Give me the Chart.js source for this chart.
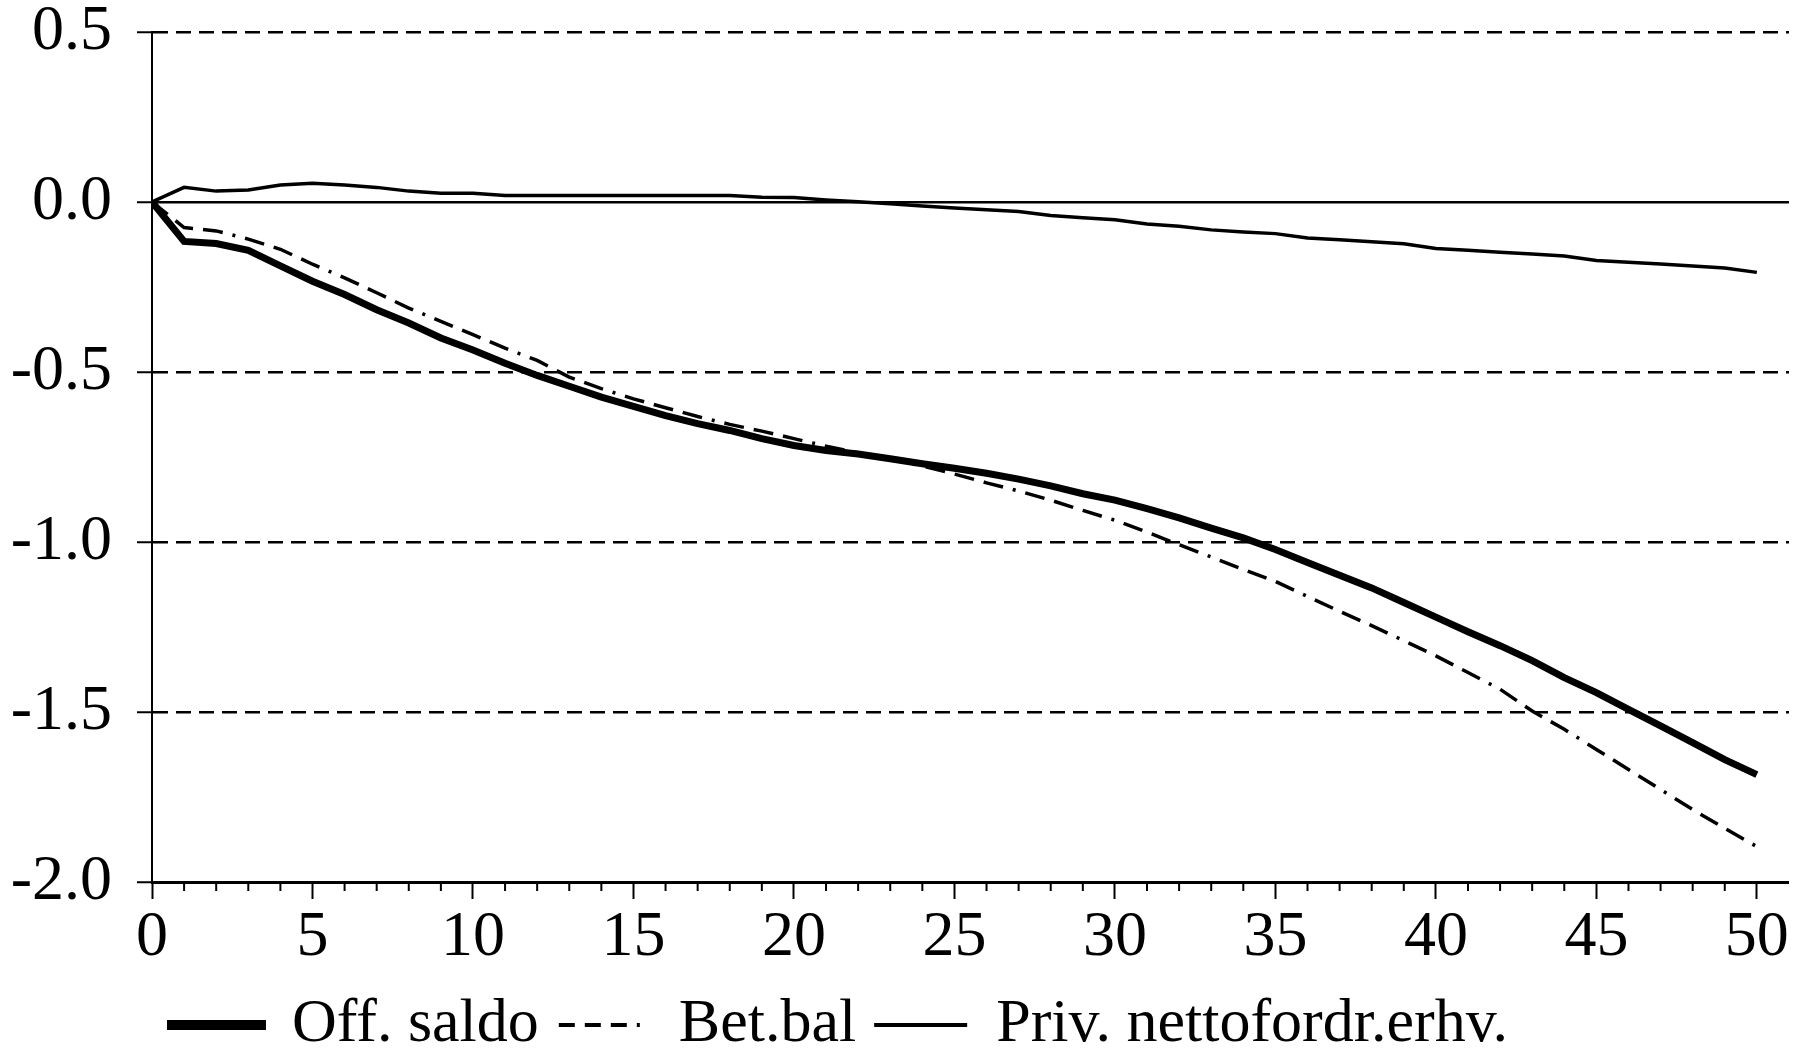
<!DOCTYPE html>
<html>
<head>
<meta charset="utf-8">
<script src="https://cdn.jsdelivr.net/npm/chart.js@4.4.1/dist/chart.umd.min.js"></script>
<style>
  html, body { margin: 0; padding: 0; background: #fff; }
  #wrap { width: 1796px; height: 1053px; }
</style>
</head>
<body>
<div id="wrap"><canvas id="grafico"></canvas></div>
<script>
const perioder = [0, 1, 2, 3, 4, 5, 6, 7, 8, 9, 10, 11, 12, 13, 14, 15, 16, 17, 18, 19, 20,
  21, 22, 23, 24, 25, 26, 27, 28, 29, 30, 31, 32, 33, 34, 35, 36, 37, 38, 39, 40,
  41, 42, 43, 44, 45, 46, 47, 48, 49, 50];

const offSaldo = [0, -0.116, -0.122, -0.142, -0.188, -0.233, -0.272, -0.317, -0.356, -0.400, -0.435,
  -0.474, -0.510, -0.542, -0.574, -0.601, -0.628, -0.652, -0.672, -0.696, -0.716,
  -0.731, -0.741, -0.755, -0.770, -0.783, -0.798, -0.815, -0.835, -0.858, -0.877,
  -0.902, -0.929, -0.959, -0.988, -1.022, -1.060, -1.098, -1.135, -1.178, -1.221,
  -1.264, -1.305, -1.349, -1.399, -1.443, -1.492, -1.541, -1.590, -1.640, -1.684];

const betBal = [0, -0.075, -0.085, -0.109, -0.139, -0.183, -0.223, -0.267, -0.312, -0.351, -0.390,
  -0.430, -0.466, -0.515, -0.549, -0.579, -0.605, -0.631, -0.654, -0.674, -0.696,
  -0.718, -0.738, -0.757, -0.776, -0.800, -0.826, -0.850, -0.877, -0.907, -0.936,
  -0.971, -1.008, -1.044, -1.081, -1.116, -1.160, -1.204, -1.246, -1.290, -1.335,
  -1.384, -1.433, -1.497, -1.551, -1.610, -1.669, -1.728, -1.787, -1.842, -1.896];

const privNetto = [0, 0.043, 0.032, 0.035, 0.050, 0.055, 0.050, 0.043, 0.032, 0.026, 0.026,
  0.019, 0.019, 0.019, 0.019, 0.019, 0.019, 0.019, 0.019, 0.014, 0.013,
  0.006, 0.001, -0.005, -0.012, -0.018, -0.023, -0.028, -0.040, -0.046, -0.052,
  -0.065, -0.071, -0.082, -0.088, -0.093, -0.106, -0.111, -0.117, -0.123, -0.137,
  -0.142, -0.148, -0.153, -0.159, -0.172, -0.177, -0.182, -0.188, -0.194, -0.207];

const serier = ["Off. saldo", "Bet.bal", "Priv. nettofordr.erhv."];
const xTicks = [0, 5, 10, 15, 20, 25, 30, 35, 40, 45, 50];
const yTicks = [0.5, 0.0, -0.5, -1.0, -1.5, -2.0];

const serif = "'Liberation Serif', 'Times New Roman', serif";
Chart.defaults.color = "#000";

const punkter = (vals) => perioder.map((p, i) => ({ x: p, y: vals[i] }));

// legendens streger: tykkelse og stiplet mønster pr. serie
const legendStreg = [
  { width: 10, dash: [], cap: "square" },
  { width: 4, dash: [16, 10, 16, 10, 16, 10, 3, 20], cap: "butt" },
  { width: 4, dash: [], cap: "square" }
];

// små streger ved hver periode på x-aksen
const smaaStreger = {
  id: "smaaStreger",
  afterDraw(chart) {
    const xs = chart.scales.x;
    const ctx = chart.ctx;
    ctx.save();
    ctx.strokeStyle = "#000";
    ctx.lineWidth = 2;
    ctx.beginPath();
    perioder.forEach(p => {
      if (p % 5 === 0) return;
      const px = xs.getPixelForValue(p);
      ctx.moveTo(px, xs.top);
      ctx.lineTo(px, xs.top + 9);
    });
    ctx.stroke();
    ctx.restore();
  }
};

new Chart(document.getElementById("grafico"), {
  type: "line",
  data: {
    datasets: [
      {
        label: serier[0],
        data: punkter(offSaldo),
        borderColor: "#000",
        backgroundColor: "#000",
        borderWidth: 7,
        pointRadius: 0,
        tension: 0
      },
      {
        label: serier[1],
        data: punkter(betBal),
        borderColor: "#000",
        backgroundColor: "#000",
        borderWidth: 3.5,
        borderDash: [20, 10, 20, 10, 20, 10, 3, 10],
        pointRadius: 0,
        tension: 0
      },
      {
        label: serier[2],
        data: punkter(privNetto),
        borderColor: "#000",
        backgroundColor: "#000",
        borderWidth: 3.5,
        pointRadius: 0,
        tension: 0
      }
    ]
  },
  options: {
    responsive: true,
    maintainAspectRatio: false,
    animation: false,
    layout: { padding: { top: 32, right: 7, bottom: -13, left: 0 } },
    plugins: {
      tooltip: { enabled: false },
      legend: {
        position: "bottom",
        align: "start",
        fullSize: false,
        labels: {
          usePointStyle: true,
          pointStyle: "line",
          pointStyleWidth: 89,
          padding: 20,
          color: "#000",
          font: { family: serif, size: 62 },
          generateLabels(chart) {
            const items = Chart.defaults.plugins.legend.labels.generateLabels(chart);
            items.forEach(it => {
              const st = legendStreg[it.datasetIndex];
              it.lineWidth = st.width;
              it.lineDash = st.dash;
              it.lineCap = st.cap;
              it.strokeStyle = "#000";
            });
            return items;
          }
        }
      }
    },
    scales: {
      x: {
        type: "linear",
        min: 0,
        max: 51,
        afterBuildTicks: s => { s.ticks = xTicks.map(v => ({ value: v })); },
        afterFit: s => { s.height = 92; },
        grid: {
          drawOnChartArea: false,
          drawTicks: true,
          tickLength: 17,
          tickWidth: 2,
          tickColor: "#000"
        },
        border: { display: true, color: "#000", width: 3 },
        ticks: {
          autoSkip: false,
          maxRotation: 0,
          padding: 7,
          color: "#000",
          font: { family: serif, size: 64, lineHeight: 1 },
          callback: v => String(v)
        }
      },
      y: {
        min: -2,
        max: 0.5,
        afterBuildTicks: s => { s.ticks = yTicks.map(v => ({ value: v })); },
        afterFit: s => { s.width = 152; },
        grid: {
          color: "#000",
          lineWidth: 2.5,
          tickLength: 15,
          tickColor: "#000",
          tickWidth: 2
        },
        border: {
          display: true,
          color: "#000",
          width: 2,
          dash: c => (c.tick && c.tick.value !== 0) ? [15, 8] : []
        },
        ticks: {
          padding: 25,
          color: "#000",
          font: { family: serif, size: 64, lineHeight: 0.1 },
          callback: v => Number(v).toFixed(1)
        }
      }
    }
  },
  plugins: [smaaStreger]
});
</script>
</body>
</html>
